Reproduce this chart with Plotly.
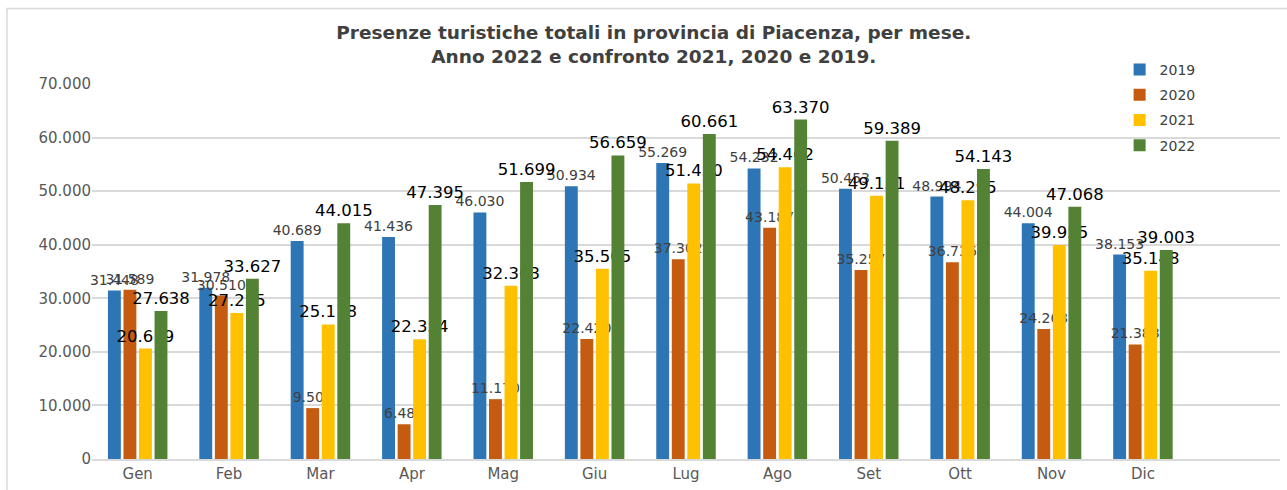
"""Presenze turistiche totali in provincia di Piacenza, per mese (2019-2022)."""

import plotly.graph_objects as go

mesi = ["Gen", "Feb", "Mar", "Apr", "Mag", "Giu", "Lug", "Ago", "Set", "Ott", "Nov", "Dic"]

presenze_2019 = [31448, 31978, 40689, 41436, 46030, 50934, 55269, 54232, 50453, 48994, 44004, 38153]
presenze_2020 = [31589, 30510, 9501, 6485, 11170, 22420, 37302, 43187, 35257, 36736, 24263, 21388]
presenze_2021 = [20619, 27235, 25118, 22354, 32363, 35505, 51430, 54462, 49131, 48295, 39955, 35148]
presenze_2022 = [27638, 33627, 44015, 47395, 51699, 56659, 60661, 63370, 59389, 54143, 47068, 39003]

y_ticks = [0, 10000, 20000, 30000, 40000, 50000, 60000, 70000]

FONT = "DejaVu Sans"

# (anno, valori, colore, dimensione etichetta, colore etichetta)
serie = [
    ("2019", presenze_2019, "#2E75B6", 14, "#404040"),
    ("2020", presenze_2020, "#C55A11", 14, "#404040"),
    ("2021", presenze_2021, "#FFC000", 16.5, "#000000"),
    ("2022", presenze_2022, "#548235", 16.5, "#000000"),
]

fig = go.Figure()
for anno, valori, colore, fsize, fcolor in serie:
    fig.add_trace(
        go.Bar(
            x=mesi,
            y=valori,
            name=anno,
            legendgroup=anno,
            marker=dict(color=colore, line=dict(width=0)),
            texttemplate="%{y:,.0f}",
            textposition="outside",
            constraintext="none",
            cliponaxis=False,
            textfont=dict(family=FONT, size=fsize, color=fcolor),
            hovertemplate="%{x} " + anno + ": %{y:,.0f}<extra></extra>",
        ),
    )

# cornice dell'area grafico (stile Excel)
fig.add_shape(
    type="rect",
    xref="paper",
    yref="paper",
    x0=-0.0716,
    x1=1.02,
    y0=-0.1,
    y1=1.2016,
    line=dict(color="#D9D9D9", width=1.5),
    layer="below",
)

fig.update_layout(
    width=1287,
    height=490,
    separators=",.",
    barmode="group",
    bargap=0.32,
    bargroupgap=0.17,
    paper_bgcolor="white",
    plot_bgcolor="white",
    font=dict(family=FONT, color="#595959", size=15),
    margin=dict(l=92, r=7, t=84, b=29),
    title=dict(
        text="Presenze turistiche totali in provincia di Piacenza, per mese.<br>"
        "Anno 2022 e confronto 2021, 2020 e 2019.",
        x=0.508,
        xanchor="center",
        xref="container",
        y=0.921,
        yanchor="top",
        yref="container",
        font=dict(family=FONT, size=18.5, color="#404040", weight="bold"),
    ),
    legend=dict(
        x=0.865,
        y=1.08,
        xanchor="left",
        yanchor="top",
        traceorder="grouped",
        tracegroupgap=4,
        font=dict(family=FONT, size=14, color="#404040"),
        bgcolor="rgba(0,0,0,0)",
        itemwidth=30,
    ),
    xaxis=dict(
        range=[-0.5, 12.5],
        showgrid=False,
        showline=True,
        linecolor="#D9D9D9",
        linewidth=2,
        ticks="",
        tickfont=dict(family=FONT, size=15, color="#595959"),
    ),
    yaxis=dict(
        range=[0, 70000],
        tickvals=y_ticks,
        tickformat=",.0f",
        showgrid=True,
        gridcolor="#D9D9D9",
        gridwidth=1.5,
        zeroline=False,
        showline=False,
        ticks="",
        ticklen=0,
        tickfont=dict(family=FONT, size=15, color="#595959"),
    ),
    showlegend=True,
)

fig.write_html(
    "out.html",
    config={"displayModeBar": False},
    post_script="document.body.style.margin='0';",
)
